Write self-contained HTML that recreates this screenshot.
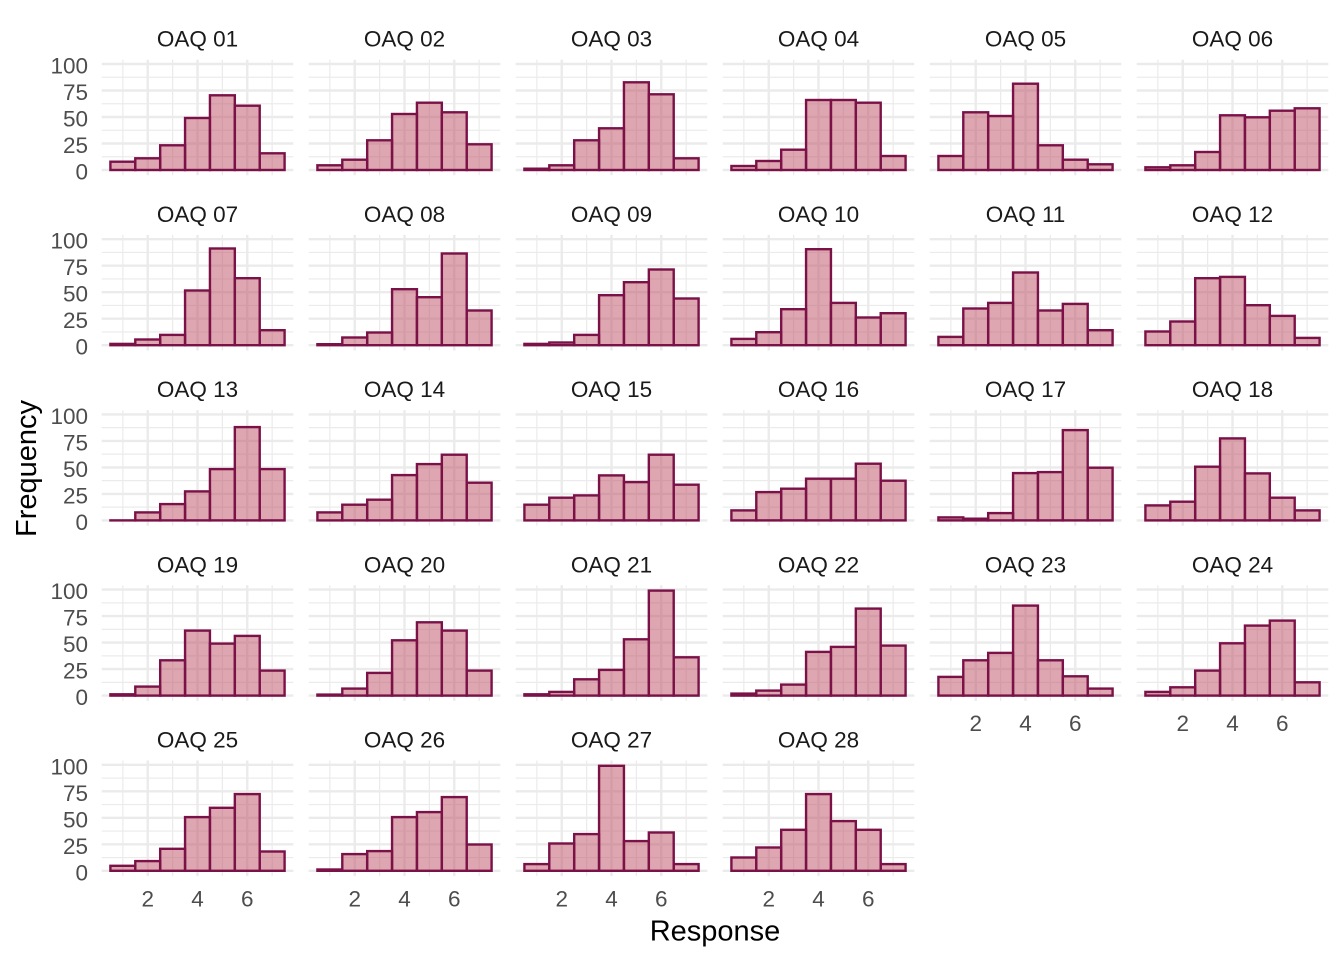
<!DOCTYPE html>
<html>
<head>
<meta charset="utf-8">
<style>
html,body{margin:0;padding:0;background:#ffffff;}
svg{display:block;}
.b{fill:#bd4d61;fill-opacity:0.5;stroke:#7a1248;stroke-width:2.4;}
.t{font-family:"Liberation Sans",Arial,sans-serif;font-size:22.5px;fill:#4d4d4d;}
.s{font-family:"Liberation Sans",Arial,sans-serif;font-size:22.5px;fill:#1a1a1a;text-anchor:middle;}
.a{font-family:"Liberation Sans",Arial,sans-serif;font-size:29px;fill:#000000;text-anchor:middle;}
</style>
</head>
<body>
<svg width="1344" height="960" viewBox="0 0 1344 960" xmlns="http://www.w3.org/2000/svg">
<defs>
<g id="g">
<g stroke="#ebebeb" stroke-width="1.2">
<line x1="0" x2="191.6" y1="-13.25" y2="-13.25"/>
<line x1="0" x2="191.6" y1="-39.75" y2="-39.75"/>
<line x1="0" x2="191.6" y1="-66.25" y2="-66.25"/>
<line x1="0" x2="191.6" y1="-92.75" y2="-92.75"/>
<line x1="21.15" x2="21.15" y1="-110.3" y2="5.3"/>
<line x1="70.92" x2="70.92" y1="-110.3" y2="5.3"/>
<line x1="120.68" x2="120.68" y1="-110.3" y2="5.3"/>
<line x1="170.45" x2="170.45" y1="-110.3" y2="5.3"/>
</g>
<g stroke="#ebebeb" stroke-width="2.4">
<line x1="0" x2="191.6" y1="0" y2="0"/>
<line x1="0" x2="191.6" y1="-26.5" y2="-26.5"/>
<line x1="0" x2="191.6" y1="-53" y2="-53"/>
<line x1="0" x2="191.6" y1="-79.5" y2="-79.5"/>
<line x1="0" x2="191.6" y1="-106" y2="-106"/>
<line x1="46.03" x2="46.03" y1="-110.3" y2="5.3"/>
<line x1="95.8" x2="95.8" y1="-110.3" y2="5.3"/>
<line x1="145.57" x2="145.57" y1="-110.3" y2="5.3"/>
</g>
</g>
</defs>

<!-- Row 1 -->
<g transform="translate(101.7,170)"><use href="#g"/>
<rect class="b" x="8.71" width="24.88" y="-8.3" height="8.3"/>
<rect class="b" x="33.59" width="24.88" y="-11.7" height="11.7"/>
<rect class="b" x="58.48" width="24.88" y="-24.7" height="24.7"/>
<rect class="b" x="83.36" width="24.88" y="-52" height="52"/>
<rect class="b" x="108.24" width="24.88" y="-74.7" height="74.7"/>
<rect class="b" x="133.13" width="24.88" y="-64.3" height="64.3"/>
<rect class="b" x="158.01" width="24.88" y="-16.7" height="16.7"/>
</g>
<g transform="translate(308.7,170)"><use href="#g"/>
<rect class="b" x="8.71" width="24.88" y="-4.7" height="4.7"/>
<rect class="b" x="33.59" width="24.88" y="-10.3" height="10.3"/>
<rect class="b" x="58.48" width="24.88" y="-29.7" height="29.7"/>
<rect class="b" x="83.36" width="24.88" y="-56" height="56"/>
<rect class="b" x="108.24" width="24.88" y="-67.3" height="67.3"/>
<rect class="b" x="133.13" width="24.88" y="-57.7" height="57.7"/>
<rect class="b" x="158.01" width="24.88" y="-25.7" height="25.7"/>
</g>
<g transform="translate(515.7,170)"><use href="#g"/>
<rect class="b" x="8.71" width="24.88" y="-1.3" height="1.3"/>
<rect class="b" x="33.59" width="24.88" y="-4.7" height="4.7"/>
<rect class="b" x="58.48" width="24.88" y="-29.7" height="29.7"/>
<rect class="b" x="83.36" width="24.88" y="-41.7" height="41.7"/>
<rect class="b" x="108.24" width="24.88" y="-87.7" height="87.7"/>
<rect class="b" x="133.13" width="24.88" y="-75.7" height="75.7"/>
<rect class="b" x="158.01" width="24.88" y="-11.7" height="11.7"/>
</g>
<g transform="translate(722.7,170)"><use href="#g"/>
<rect class="b" x="8.71" width="24.88" y="-4" height="4"/>
<rect class="b" x="33.59" width="24.88" y="-9" height="9"/>
<rect class="b" x="58.48" width="24.88" y="-20.3" height="20.3"/>
<rect class="b" x="83.36" width="24.88" y="-70" height="70"/>
<rect class="b" x="108.24" width="24.88" y="-70" height="70"/>
<rect class="b" x="133.13" width="24.88" y="-67.3" height="67.3"/>
<rect class="b" x="158.01" width="24.88" y="-14" height="14"/>
</g>
<g transform="translate(929.7,170)"><use href="#g"/>
<rect class="b" x="8.71" width="24.88" y="-14" height="14"/>
<rect class="b" x="33.59" width="24.88" y="-57.7" height="57.7"/>
<rect class="b" x="58.48" width="24.88" y="-54" height="54"/>
<rect class="b" x="83.36" width="24.88" y="-86.3" height="86.3"/>
<rect class="b" x="108.24" width="24.88" y="-24.7" height="24.7"/>
<rect class="b" x="133.13" width="24.88" y="-10.3" height="10.3"/>
<rect class="b" x="158.01" width="24.88" y="-5.7" height="5.7"/>
</g>
<g transform="translate(1136.7,170)"><use href="#g"/>
<rect class="b" x="8.71" width="24.88" y="-2.7" height="2.7"/>
<rect class="b" x="33.59" width="24.88" y="-4.7" height="4.7"/>
<rect class="b" x="58.48" width="24.88" y="-18" height="18"/>
<rect class="b" x="83.36" width="24.88" y="-54.7" height="54.7"/>
<rect class="b" x="108.24" width="24.88" y="-52.7" height="52.7"/>
<rect class="b" x="133.13" width="24.88" y="-59.3" height="59.3"/>
<rect class="b" x="158.01" width="24.88" y="-61.7" height="61.7"/>
</g>

<!-- Row 2 -->
<g transform="translate(101.7,345.2)"><use href="#g"/>
<rect class="b" x="8.71" width="24.88" y="-1.3" height="1.3"/>
<rect class="b" x="33.59" width="24.88" y="-5.7" height="5.7"/>
<rect class="b" x="58.48" width="24.88" y="-10.3" height="10.3"/>
<rect class="b" x="83.36" width="24.88" y="-54.7" height="54.7"/>
<rect class="b" x="108.24" width="24.88" y="-96.7" height="96.7"/>
<rect class="b" x="133.13" width="24.88" y="-67" height="67"/>
<rect class="b" x="158.01" width="24.88" y="-15" height="15"/>
</g>
<g transform="translate(308.7,345.2)"><use href="#g"/>
<rect class="b" x="8.71" width="24.88" y="-1" height="1"/>
<rect class="b" x="33.59" width="24.88" y="-7.7" height="7.7"/>
<rect class="b" x="58.48" width="24.88" y="-12.7" height="12.7"/>
<rect class="b" x="83.36" width="24.88" y="-56" height="56"/>
<rect class="b" x="108.24" width="24.88" y="-48" height="48"/>
<rect class="b" x="133.13" width="24.88" y="-91.7" height="91.7"/>
<rect class="b" x="158.01" width="24.88" y="-34.7" height="34.7"/>
</g>
<g transform="translate(515.7,345.2)"><use href="#g"/>
<rect class="b" x="8.71" width="24.88" y="-1.3" height="1.3"/>
<rect class="b" x="33.59" width="24.88" y="-2.7" height="2.7"/>
<rect class="b" x="58.48" width="24.88" y="-10.3" height="10.3"/>
<rect class="b" x="83.36" width="24.88" y="-50" height="50"/>
<rect class="b" x="108.24" width="24.88" y="-63" height="63"/>
<rect class="b" x="133.13" width="24.88" y="-75.7" height="75.7"/>
<rect class="b" x="158.01" width="24.88" y="-46.7" height="46.7"/>
</g>
<g transform="translate(722.7,345.2)"><use href="#g"/>
<rect class="b" x="8.71" width="24.88" y="-6.3" height="6.3"/>
<rect class="b" x="33.59" width="24.88" y="-13" height="13"/>
<rect class="b" x="58.48" width="24.88" y="-36" height="36"/>
<rect class="b" x="83.36" width="24.88" y="-96" height="96"/>
<rect class="b" x="108.24" width="24.88" y="-42.3" height="42.3"/>
<rect class="b" x="133.13" width="24.88" y="-27.7" height="27.7"/>
<rect class="b" x="158.01" width="24.88" y="-32" height="32"/>
</g>
<g transform="translate(929.7,345.2)"><use href="#g"/>
<rect class="b" x="8.71" width="24.88" y="-8.3" height="8.3"/>
<rect class="b" x="33.59" width="24.88" y="-36.7" height="36.7"/>
<rect class="b" x="58.48" width="24.88" y="-42.3" height="42.3"/>
<rect class="b" x="83.36" width="24.88" y="-72.7" height="72.7"/>
<rect class="b" x="108.24" width="24.88" y="-34.7" height="34.7"/>
<rect class="b" x="133.13" width="24.88" y="-41.3" height="41.3"/>
<rect class="b" x="158.01" width="24.88" y="-15" height="15"/>
</g>
<g transform="translate(1136.7,345.2)"><use href="#g"/>
<rect class="b" x="8.71" width="24.88" y="-13.7" height="13.7"/>
<rect class="b" x="33.59" width="24.88" y="-23.7" height="23.7"/>
<rect class="b" x="58.48" width="24.88" y="-67" height="67"/>
<rect class="b" x="83.36" width="24.88" y="-68.3" height="68.3"/>
<rect class="b" x="108.24" width="24.88" y="-40" height="40"/>
<rect class="b" x="133.13" width="24.88" y="-29.3" height="29.3"/>
<rect class="b" x="158.01" width="24.88" y="-7.3" height="7.3"/>
</g>

<!-- Row 3 -->
<g transform="translate(101.7,520.4)"><use href="#g"/>
<rect class="b" x="8.71" width="24.88" y="-0.01" height="0.01"/>
<rect class="b" x="33.59" width="24.88" y="-8" height="8"/>
<rect class="b" x="58.48" width="24.88" y="-16.3" height="16.3"/>
<rect class="b" x="83.36" width="24.88" y="-29" height="29"/>
<rect class="b" x="108.24" width="24.88" y="-51.3" height="51.3"/>
<rect class="b" x="133.13" width="24.88" y="-93.3" height="93.3"/>
<rect class="b" x="158.01" width="24.88" y="-51.3" height="51.3"/>
</g>
<g transform="translate(308.7,520.4)"><use href="#g"/>
<rect class="b" x="8.71" width="24.88" y="-8" height="8"/>
<rect class="b" x="33.59" width="24.88" y="-15.7" height="15.7"/>
<rect class="b" x="58.48" width="24.88" y="-20.7" height="20.7"/>
<rect class="b" x="83.36" width="24.88" y="-45.3" height="45.3"/>
<rect class="b" x="108.24" width="24.88" y="-56.3" height="56.3"/>
<rect class="b" x="133.13" width="24.88" y="-65.7" height="65.7"/>
<rect class="b" x="158.01" width="24.88" y="-37.7" height="37.7"/>
</g>
<g transform="translate(515.7,520.4)"><use href="#g"/>
<rect class="b" x="8.71" width="24.88" y="-15.7" height="15.7"/>
<rect class="b" x="33.59" width="24.88" y="-22.7" height="22.7"/>
<rect class="b" x="58.48" width="24.88" y="-25" height="25"/>
<rect class="b" x="83.36" width="24.88" y="-45" height="45"/>
<rect class="b" x="108.24" width="24.88" y="-38.3" height="38.3"/>
<rect class="b" x="133.13" width="24.88" y="-65.7" height="65.7"/>
<rect class="b" x="158.01" width="24.88" y="-35.7" height="35.7"/>
</g>
<g transform="translate(722.7,520.4)"><use href="#g"/>
<rect class="b" x="8.71" width="24.88" y="-10" height="10"/>
<rect class="b" x="33.59" width="24.88" y="-28.3" height="28.3"/>
<rect class="b" x="58.48" width="24.88" y="-31.7" height="31.7"/>
<rect class="b" x="83.36" width="24.88" y="-41.7" height="41.7"/>
<rect class="b" x="108.24" width="24.88" y="-41.7" height="41.7"/>
<rect class="b" x="133.13" width="24.88" y="-56.7" height="56.7"/>
<rect class="b" x="158.01" width="24.88" y="-39.7" height="39.7"/>
</g>
<g transform="translate(929.7,520.4)"><use href="#g"/>
<rect class="b" x="8.71" width="24.88" y="-3" height="3"/>
<rect class="b" x="33.59" width="24.88" y="-1.7" height="1.7"/>
<rect class="b" x="58.48" width="24.88" y="-7.3" height="7.3"/>
<rect class="b" x="83.36" width="24.88" y="-47.3" height="47.3"/>
<rect class="b" x="108.24" width="24.88" y="-48.3" height="48.3"/>
<rect class="b" x="133.13" width="24.88" y="-90.3" height="90.3"/>
<rect class="b" x="158.01" width="24.88" y="-52.7" height="52.7"/>
</g>
<g transform="translate(1136.7,520.4)"><use href="#g"/>
<rect class="b" x="8.71" width="24.88" y="-15" height="15"/>
<rect class="b" x="33.59" width="24.88" y="-18.7" height="18.7"/>
<rect class="b" x="58.48" width="24.88" y="-53.7" height="53.7"/>
<rect class="b" x="83.36" width="24.88" y="-82" height="82"/>
<rect class="b" x="108.24" width="24.88" y="-47" height="47"/>
<rect class="b" x="133.13" width="24.88" y="-22.7" height="22.7"/>
<rect class="b" x="158.01" width="24.88" y="-10" height="10"/>
</g>

<!-- Row 4 -->
<g transform="translate(101.7,695.6)"><use href="#g"/>
<rect class="b" x="8.71" width="24.88" y="-1.3" height="1.3"/>
<rect class="b" x="33.59" width="24.88" y="-9" height="9"/>
<rect class="b" x="58.48" width="24.88" y="-35.3" height="35.3"/>
<rect class="b" x="83.36" width="24.88" y="-65" height="65"/>
<rect class="b" x="108.24" width="24.88" y="-52" height="52"/>
<rect class="b" x="133.13" width="24.88" y="-59.7" height="59.7"/>
<rect class="b" x="158.01" width="24.88" y="-25" height="25"/>
</g>
<g transform="translate(308.7,695.6)"><use href="#g"/>
<rect class="b" x="8.71" width="24.88" y="-1" height="1"/>
<rect class="b" x="33.59" width="24.88" y="-7" height="7"/>
<rect class="b" x="58.48" width="24.88" y="-22.7" height="22.7"/>
<rect class="b" x="83.36" width="24.88" y="-55.3" height="55.3"/>
<rect class="b" x="108.24" width="24.88" y="-73.3" height="73.3"/>
<rect class="b" x="133.13" width="24.88" y="-65" height="65"/>
<rect class="b" x="158.01" width="24.88" y="-25" height="25"/>
</g>
<g transform="translate(515.7,695.6)"><use href="#g"/>
<rect class="b" x="8.71" width="24.88" y="-1.3" height="1.3"/>
<rect class="b" x="33.59" width="24.88" y="-3.7" height="3.7"/>
<rect class="b" x="58.48" width="24.88" y="-16.3" height="16.3"/>
<rect class="b" x="83.36" width="24.88" y="-25.7" height="25.7"/>
<rect class="b" x="108.24" width="24.88" y="-56.3" height="56.3"/>
<rect class="b" x="133.13" width="24.88" y="-105" height="105"/>
<rect class="b" x="158.01" width="24.88" y="-38.3" height="38.3"/>
</g>
<g transform="translate(722.7,695.6)"><use href="#g"/>
<rect class="b" x="8.71" width="24.88" y="-2" height="2"/>
<rect class="b" x="33.59" width="24.88" y="-5" height="5"/>
<rect class="b" x="58.48" width="24.88" y="-11" height="11"/>
<rect class="b" x="83.36" width="24.88" y="-43.7" height="43.7"/>
<rect class="b" x="108.24" width="24.88" y="-48.7" height="48.7"/>
<rect class="b" x="133.13" width="24.88" y="-87" height="87"/>
<rect class="b" x="158.01" width="24.88" y="-50" height="50"/>
</g>
<g transform="translate(929.7,695.6)"><use href="#g"/>
<rect class="b" x="8.71" width="24.88" y="-18.7" height="18.7"/>
<rect class="b" x="33.59" width="24.88" y="-35.3" height="35.3"/>
<rect class="b" x="58.48" width="24.88" y="-42.7" height="42.7"/>
<rect class="b" x="83.36" width="24.88" y="-90" height="90"/>
<rect class="b" x="108.24" width="24.88" y="-35.3" height="35.3"/>
<rect class="b" x="133.13" width="24.88" y="-19.3" height="19.3"/>
<rect class="b" x="158.01" width="24.88" y="-7" height="7"/>
</g>
<g transform="translate(1136.7,695.6)"><use href="#g"/>
<rect class="b" x="8.71" width="24.88" y="-3.7" height="3.7"/>
<rect class="b" x="33.59" width="24.88" y="-8.3" height="8.3"/>
<rect class="b" x="58.48" width="24.88" y="-25" height="25"/>
<rect class="b" x="83.36" width="24.88" y="-52.3" height="52.3"/>
<rect class="b" x="108.24" width="24.88" y="-70" height="70"/>
<rect class="b" x="133.13" width="24.88" y="-75" height="75"/>
<rect class="b" x="158.01" width="24.88" y="-13.3" height="13.3"/>
</g>

<!-- Row 5 -->
<g transform="translate(101.7,870.8)"><use href="#g"/>
<rect class="b" x="8.71" width="24.88" y="-5" height="5"/>
<rect class="b" x="33.59" width="24.88" y="-9.7" height="9.7"/>
<rect class="b" x="58.48" width="24.88" y="-22" height="22"/>
<rect class="b" x="83.36" width="24.88" y="-53.7" height="53.7"/>
<rect class="b" x="108.24" width="24.88" y="-63" height="63"/>
<rect class="b" x="133.13" width="24.88" y="-76.7" height="76.7"/>
<rect class="b" x="158.01" width="24.88" y="-19.3" height="19.3"/>
</g>
<g transform="translate(308.7,870.8)"><use href="#g"/>
<rect class="b" x="8.71" width="24.88" y="-1.3" height="1.3"/>
<rect class="b" x="33.59" width="24.88" y="-16.7" height="16.7"/>
<rect class="b" x="58.48" width="24.88" y="-19.7" height="19.7"/>
<rect class="b" x="83.36" width="24.88" y="-53.7" height="53.7"/>
<rect class="b" x="108.24" width="24.88" y="-58.7" height="58.7"/>
<rect class="b" x="133.13" width="24.88" y="-73.7" height="73.7"/>
<rect class="b" x="158.01" width="24.88" y="-26.3" height="26.3"/>
</g>
<g transform="translate(515.7,870.8)"><use href="#g"/>
<rect class="b" x="8.71" width="24.88" y="-6.7" height="6.7"/>
<rect class="b" x="33.59" width="24.88" y="-27.3" height="27.3"/>
<rect class="b" x="58.48" width="24.88" y="-36.7" height="36.7"/>
<rect class="b" x="83.36" width="24.88" y="-105" height="105"/>
<rect class="b" x="108.24" width="24.88" y="-29.7" height="29.7"/>
<rect class="b" x="133.13" width="24.88" y="-38.3" height="38.3"/>
<rect class="b" x="158.01" width="24.88" y="-6.7" height="6.7"/>
</g>
<g transform="translate(722.7,870.8)"><use href="#g"/>
<rect class="b" x="8.71" width="24.88" y="-13.3" height="13.3"/>
<rect class="b" x="33.59" width="24.88" y="-23.3" height="23.3"/>
<rect class="b" x="58.48" width="24.88" y="-41" height="41"/>
<rect class="b" x="83.36" width="24.88" y="-76.7" height="76.7"/>
<rect class="b" x="108.24" width="24.88" y="-49.7" height="49.7"/>
<rect class="b" x="133.13" width="24.88" y="-41" height="41"/>
<rect class="b" x="158.01" width="24.88" y="-6.7" height="6.7"/>
</g>

<!-- Strip labels -->
<text class="s" x="197.5" y="46.7">OAQ 01</text>
<text class="s" x="404.5" y="46.7">OAQ 02</text>
<text class="s" x="611.5" y="46.7">OAQ 03</text>
<text class="s" x="818.5" y="46.7">OAQ 04</text>
<text class="s" x="1025.5" y="46.7">OAQ 05</text>
<text class="s" x="1232.5" y="46.7">OAQ 06</text>
<text class="s" x="197.5" y="221.9">OAQ 07</text>
<text class="s" x="404.5" y="221.9">OAQ 08</text>
<text class="s" x="611.5" y="221.9">OAQ 09</text>
<text class="s" x="818.5" y="221.9">OAQ 10</text>
<text class="s" x="1025.5" y="221.9">OAQ 11</text>
<text class="s" x="1232.5" y="221.9">OAQ 12</text>
<text class="s" x="197.5" y="397.1">OAQ 13</text>
<text class="s" x="404.5" y="397.1">OAQ 14</text>
<text class="s" x="611.5" y="397.1">OAQ 15</text>
<text class="s" x="818.5" y="397.1">OAQ 16</text>
<text class="s" x="1025.5" y="397.1">OAQ 17</text>
<text class="s" x="1232.5" y="397.1">OAQ 18</text>
<text class="s" x="197.5" y="572.3">OAQ 19</text>
<text class="s" x="404.5" y="572.3">OAQ 20</text>
<text class="s" x="611.5" y="572.3">OAQ 21</text>
<text class="s" x="818.5" y="572.3">OAQ 22</text>
<text class="s" x="1025.5" y="572.3">OAQ 23</text>
<text class="s" x="1232.5" y="572.3">OAQ 24</text>
<text class="s" x="197.5" y="747.5">OAQ 25</text>
<text class="s" x="404.5" y="747.5">OAQ 26</text>
<text class="s" x="611.5" y="747.5">OAQ 27</text>
<text class="s" x="818.5" y="747.5">OAQ 28</text>

<!-- Y tick labels -->
<g class="t" text-anchor="end">
<text x="88" y="73.5">100</text><text x="88" y="100">75</text><text x="88" y="126.5">50</text><text x="88" y="153">25</text><text x="88" y="179.5">0</text>
<text x="88" y="248.7">100</text><text x="88" y="275.2">75</text><text x="88" y="301.7">50</text><text x="88" y="328.2">25</text><text x="88" y="354.7">0</text>
<text x="88" y="423.9">100</text><text x="88" y="450.4">75</text><text x="88" y="476.9">50</text><text x="88" y="503.4">25</text><text x="88" y="529.9">0</text>
<text x="88" y="599.1">100</text><text x="88" y="625.6">75</text><text x="88" y="652.1">50</text><text x="88" y="678.6">25</text><text x="88" y="705.1">0</text>
<text x="88" y="774.3">100</text><text x="88" y="800.8">75</text><text x="88" y="827.3">50</text><text x="88" y="853.8">25</text><text x="88" y="880.3">0</text>
</g>

<!-- X tick labels -->
<g class="t" text-anchor="middle">
<text x="147.7" y="906.3">2</text><text x="197.5" y="906.3">4</text><text x="247.3" y="906.3">6</text>
<text x="354.7" y="906.3">2</text><text x="404.5" y="906.3">4</text><text x="454.3" y="906.3">6</text>
<text x="561.7" y="906.3">2</text><text x="611.5" y="906.3">4</text><text x="661.3" y="906.3">6</text>
<text x="768.7" y="906.3">2</text><text x="818.5" y="906.3">4</text><text x="868.3" y="906.3">6</text>
<text x="975.7" y="731.1">2</text><text x="1025.5" y="731.1">4</text><text x="1075.3" y="731.1">6</text>
<text x="1182.7" y="731.1">2</text><text x="1232.5" y="731.1">4</text><text x="1282.3" y="731.1">6</text>
</g>

<!-- Axis titles -->
<text class="a" x="715" y="940.5">Response</text>
<text class="a" transform="translate(36,468.5) rotate(-90)">Frequency</text>
</svg>
</body>
</html>
